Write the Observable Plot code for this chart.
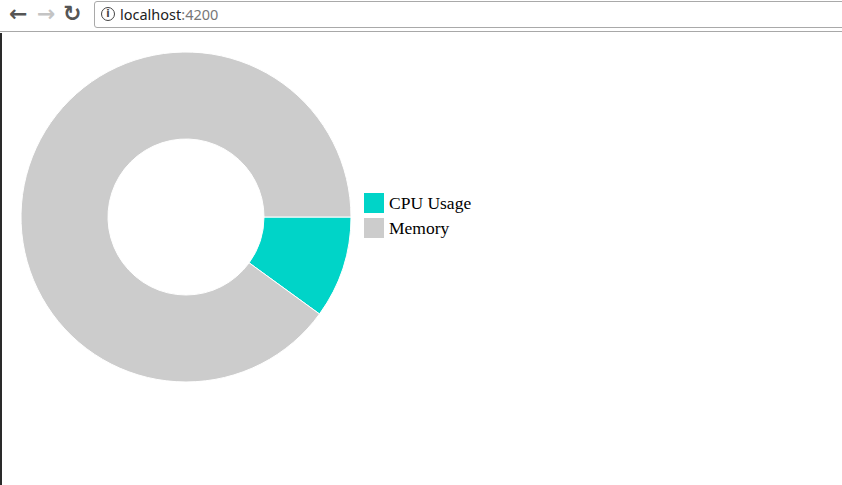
<!DOCTYPE html>
<html>
<head>
<meta charset="utf-8">
<script src="https://cdn.jsdelivr.net/npm/d3@7"></script>
<script src="https://cdn.jsdelivr.net/npm/@observablehq/plot@0.6"></script>
<style>
  html, body { margin: 0; padding: 0; background: #fff; width: 842px; height: 485px; overflow: hidden; }
  #chrome { position: absolute; left: 0; top: 0; width: 842px; height: 31px; background: #fff; border-bottom: 1px solid #f0f0f0; }
  #chrome .line { position: absolute; left: 0; top: 31px; width: 842px; height: 1px; background: #a8a8a8; }
  .nav { position: absolute; top: 0px; font-family: "DejaVu Sans", sans-serif; font-size: 22px; line-height: 28px; font-weight: bold; }
  #addr { position: absolute; left: 94px; top: 1px; width: 760px; height: 25px; border: 1px solid #a9a9a9; border-radius: 3px; background: #fff; }
  #addr .info { position: absolute; left: 6px; top: 5px; width: 12px; height: 12px; border: 1.5px solid #444; border-radius: 50%; font: bold 10px "DejaVu Sans", sans-serif; line-height: 12px; text-align: center; color: #444; }
  #addr .url { position: absolute; left: 25px; top: 3px; font-family: "Noto Sans", "DejaVu Sans", sans-serif; font-size: 14.5px; line-height: 18px; color: #222; }
  #addr .url span { color: #777; }
  #page { position: absolute; left: 0; top: 33px; width: 842px; height: 452px; border-left: 2px solid #2a2a2a; box-sizing: border-box; }
  #chart { position: absolute; left: -2px; top: 0; }
  #legend { position: absolute; left: 362px; top: 160px; font-family: "Liberation Serif", "Times New Roman", serif; font-size: 17.5px; color: #000; }
  #legend .row { display: flex; align-items: center; height: 20px; margin-bottom: 5px; }
  #legend .sw { width: 20px; height: 20px; margin-right: 5px; }
</style>
</head>
<body>
<div id="chrome">
  <div class="nav" style="left:9px;color:#555">&#8592;</div>
  <div class="nav" style="left:37px;color:#c4c4c4">&#8594;</div>
  <div class="nav" style="left:63px;color:#555">&#8635;</div>
  <div id="addr"><div class="info">i</div><div class="url">localhost<span>:4200</span></div></div>
  <div class="line"></div>
</div>
<div id="page">
  <div id="chart"></div>
  <div id="legend"></div>
</div>
<script>
const categories = ["CPU Usage", "Memory"];
const values = [10, 90];
const colors = ["#00d4c8", "#cccccc"];

const data = categories.map((c, i) => ({category: c, value: values[i]}));

const outerRadius = 165;
const innerRadius = 78;
const cx = 186, cy = 184;

const chart = Plot.plot({
  width: 842,
  height: 452,
  margin: 0,
  x: {domain: [0, 842], range: [0, 842], axis: null},
  y: {domain: [0, 452], range: [0, 452], axis: null},
  color: {domain: categories, range: colors},
  marks: [
    (index, scales, values_, dimensions) => {
      const color = scales.color || d3.scaleOrdinal(categories, colors);
      const pie = d3.pie().value(d => d.value).sort(null)
        .startAngle(Math.PI / 2).endAngle(Math.PI / 2 + 2 * Math.PI);
      const arc = d3.arc().innerRadius(innerRadius).outerRadius(outerRadius);
      const g = d3.create("svg:g")
        .attr("transform", `translate(${scales.x(cx)},${scales.y(cy)})`);
      g.selectAll("path")
        .data(pie(data))
        .join("path")
        .attr("d", arc)
        .attr("fill", d => color(d.data.category))
        .attr("stroke", "#fff")
        .attr("stroke-width", 1);
      return g.node();
    }
  ]
});
document.getElementById("chart").appendChild(chart);

const legend = d3.select("#legend");
const rows = legend.selectAll(".row").data(data).join("div").attr("class", "row");
rows.append("div").attr("class", "sw").style("background", (d, i) => colors[i]);
rows.append("div").text(d => d.category);
</script>
</body>
</html>
